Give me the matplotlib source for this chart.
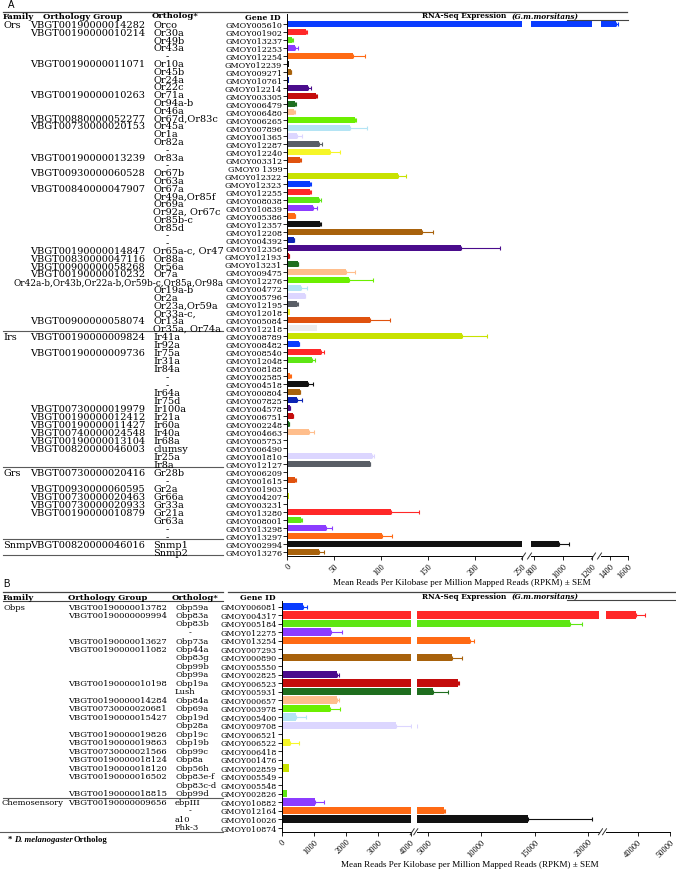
import matplotlib
matplotlib.use("Agg")
import matplotlib.pyplot as plt
from matplotlib.lines import Line2D
import numpy as np

W, H = 676, 870

# bar colours repeat every 20 genes
palette = ["#0a3cff", "#ff2828", "#5ee614", "#8c3cff", "#ff6a14", "#111111", "#a8620c",
           "#0c24b4", "#4a0c8c", "#c40c0c", "#1f6e1f", "#ffbe8c", "#6cef00", "#b4e4f4",
           "#dcd6ff", "#595e66", "#f6f628", "#e0520e", "#ececec", "#c8e200"]

# ---------------- panel A ----------------
genes_a = ["GMOY005610", "GMOY001902", "GMOY013237", "GMOY012253", "GMOY012254", "GMOY012239",
           "GMOY009271", "GMOY010761", "GMOY012214", "GMOY003305", "GMOY006479", "GMOY006480",
           "GMOY006265", "GMOY007896", "GMOY001365", "GMOY012287", "GMOY012240", "GMOY003312",
           "GMOY0 1399", "GMOY012322", "GMOY012323", "GMOY012255", "GMOY008038", "GMOY010839",
           "GMOY005386", "GMOY012357", "GMOY012208", "GMOY004392", "GMOY012356", "GMOY012193",
           "GMOY013231", "GMOY009475", "GMOY012276", "GMOY004772", "GMOY005796", "GMOY012195",
           "GMOY012018", "GMOY005084", "GMOY012218",
           "GMOY008789", "GMOY008482", "GMOY008540", "GMOY012048", "GMOY008188", "GMOY002585",
           "GMOY004518", "GMOY000804", "GMOY007825", "GMOY004578", "GMOY006751", "GMOY002248",
           "GMOY004663", "GMOY005753", "GMOY006490", "GMOY001810", "GMOY012127",
           "GMOY006209", "GMOY001615", "GMOY001903", "GMOY004207", "GMOY003231", "GMOY013280",
           "GMOY008001", "GMOY013298", "GMOY013297",
           "GMOY002994", "GMOY013276"]
rpkm_a = [1467, 20, 5.7, 8.5, 70.6, 1.8, 3.9, 1.6, 22.7, 31.2, 8.9, 7.5, 72.3, 67, 11, 34.4,
          45.4, 13.8, 1.5, 117.7, 24.8, 24.8, 33.7, 27.3, 8.5, 35.5, 144, 7.1, 185, 2.1, 11.7,
          62.4, 65.6, 14.5, 19.1, 11, 2.8, 87.9, 31.6,
          185.8, 12.4, 36.2, 26.6, 1.4, 3.5, 22.7, 13.8, 10.3, 3.2, 6.4, 2.1, 23.8, 1.2, 0.9,
          90.4, 87.9,
          1.0, 8.9, 0, 1.6, 0, 110.3, 14.5, 41.5, 101.4,
          975, 34]
sem_a = [22, 1, 0.5, 3.5, 12.5, 0, 0.5, 0, 3.2, 1, 0.5, 0.5, 1, 17.7, 5, 2.5,
         11.3, 1, 0, 8.5, 0.5, 0.5, 3, 5, 0.3, 0.5, 11, 0.5, 41.6, 0.2, 0.5,
         10.3, 26.2, 6.4, 0.5, 0.5, 0, 22, 0,
         27, 0.5, 3.2, 2.8, 0, 0.3, 4.6, 0.5, 6, 0.3, 0.3, 0.2, 5.2, 0, 0,
         2, 0.5,
         0, 0.3, 0, 0, 0, 30, 1.5, 6.4, 10,
         69, 5.7]

ors_orth = ["Orco", "Or30a", "Or49b", "Or43a", "-", "Or10a", "Or45b", "Or24a", "Or22c", "Or71a",
            "Or94a-b", "Or46a", "Or67d,Or83c", "Or45a", "Or1a", "Or82a", "-", "Or83a", "-",
            "Or67b", "Or63a", "Or67a", "Or49a,Or85f", "Or69a", "Or92a, Or67c", "Or85b-c",
            "Or85d", "-", "-", "Or65a-c, Or47", "Or88a", "Or56a", "Or7a",
            "Or42a-b,Or43b,Or22a-b,Or59b-c,Or85a,Or98a", "Or19a-b", "Or2a", "Or23a,Or59a",
            "Or33a-c,", "Or13a", "Or35a, Or74a"]
ors_grp = {0: "VBGT00190000014282", 1: "VBGT00190000010214", 5: "VBGT00190000011071",
           9: "VBGT00190000010263", 12: "VBGT00880000052277", 13: "VBGT00730000020153",
           17: "VBGT00190000013239", 19: "VBGT00930000060528", 21: "VBGT00840000047907",
           29: "VBGT00190000014847", 30: "VBGT00830000047116", 31: "VBGT00900000058268",
           32: "VBGT00190000010232", 38: "VBGT00900000058074"}
irs_orth = ["Ir41a", "Ir92a", "Ir75a", "Ir31a", "Ir84a", "-", "-", "Ir64a", "Ir75d", "Ir100a",
            "Ir21a", "Ir60a", "Ir40a", "Ir68a", "clumsy", "Ir25a", "Ir8a"]
irs_grp = {0: "VBGT00190000009824", 2: "VBGT00190000009736", 9: "VBGT00730000019979",
           10: "VBGT00190000012412", 11: "VBGT00190000011427", 12: "VBGT00740000024548",
           13: "VBGT00190000013104", 14: "VBGT00820000046003"}
grs_orth = ["Gr28b", "-", "Gr2a", "Gr66a", "Gr33a", "Gr21a", "Gr63a", "-", "-"]
grs_grp = {0: "VBGT00730000020416", 2: "VBGT00930000060595", 3: "VBGT00730000020463",
           4: "VBGT00730000020933", 5: "VBGT00190000010879"}
snmp_orth = ["Snmp1", "Snmp2"]
snmp_grp = {0: "VBGT00820000046016"}

ticks_a = [[0, 50, 100, 150, 200, 250], [800, 1000, 1200], [1400, 1600]]

# ---------------- panel B ----------------
genes_b = ["GMOY006081", "GMOY004317", "GMOY005184", "GMOY012275", "GMOY013254", "GMOY007293",
           "GMOY000890", "GMOY005550", "GMOY002825", "GMOY006523", "GMOY005931", "GMOY000657",
           "GMOY003978", "GMOY005400", "GMOY009708", "GMOY006521", "GMOY006522", "GMOY006418",
           "GMOY001476", "GMOY002859", "GMOY005549", "GMOY005548", "GMOY002826",
           "GMOY010882", "GMOY012164", "GMOY010026", "GMOY010874"]
rpkm_b = [670, 39300, 18280, 1519, 8930, 30, 7274, 40, 1705, 7780, 5500, 1705, 1488, 434,
          3535, 20, 267, 50, 10, 227, 30, 0, 163,
          1023, 6470, 14385, 0]
sem_b = [105, 2800, 1100, 340, 370, 0, 880, 0, 80, 90, 1340, 80, 320, 320,
         460, 0, 280, 0, 0, 0, 0, 0, 0,
         300, 150, 5925, 0]

obp_orth = ["Obp59a", "Obp83a", "Obp83b", "-", "Obp73a", "Obp44a", "Obp83g", "Obp99b", "Obp99a",
            "Obp19a", "Lush", "Obp84a", "Obp69a", "Obp19d", "Obp28a", "Obp19c", "Obp19b",
            "Obp99c", "Obp8a", "Obp56h", "Obp83e-f", "Obp83c-d", "Obp99d"]
obp_grp = {0: "VBGT00190000013782", 1: "VBGT00190000009994", 4: "VBGT00190000013627",
           5: "VBGT00190000011082", 9: "VBGT00190000010198", 11: "VBGT00190000014284",
           12: "VBGT00730000020681", 13: "VBGT00190000015427", 15: "VBGT00190000019826",
           16: "VBGT00190000019863", 17: "VBGT00730000021566", 18: "VBGT00190000018124",
           19: "VBGT00190000018120", 20: "VBGT00190000016502", 22: "VBGT00190000018815"}
chemo_orth = ["ebpIII", "-", "a10", "Phk-3"]
chemo_grp = {0: "VBGT00190000009656"}

ticks_b = [[0, 1000, 2000, 3000, 4000], [5000, 10000, 15000, 20000], [40000, 50000]]

xlabel = "Mean Reads Per Kilobase per Million Mapped Reads (RPKM) \u00b1 SEM"

SERIF = "DejaVu Serif"
TIMES = "Liberation Serif"

fig = plt.figure(figsize=(W / 100, H / 100), dpi=100)


def px_ax(x0, x1, y0, y1):
    return fig.add_axes([x0 / W, 1 - y1 / H, (x1 - x0) / W, (y1 - y0) / H])


def ftext(x, y, s, **kw):
    kw.setdefault("va", "center")
    kw.setdefault("family", SERIF)
    fig.text(x / W, 1 - y / H, s, **kw)


def hline(x0, x1, y, lw=0.8, color="#5a5a5a"):
    fig.add_artist(Line2D([x0 / W, x1 / W], [1 - y / H, 1 - y / H], lw=lw, color=color,
                          transform=fig.transFigure))


def slash(x, y):
    fig.add_artist(Line2D([(x - 2) / W, (x + 2) / W], [1 - (y + 3) / H, 1 - (y - 3) / H],
                          lw=0.7, color="#333333", transform=fig.transFigure))


def draw_bars(genes, vals, sems, segs, tick_sets, y_first, pitch, top_pad, bar_h, gene_fs):
    n = len(genes)
    rows = np.arange(n)
    cols = [palette[i % len(palette)] for i in range(n)]
    vals = np.asarray(vals, float)
    sems = np.asarray(sems, float)
    y_top = y_first - top_pad * pitch
    y_bot = y_first + (n - 0.5) * pitch
    for k, ((x0, x1, lim), ticks) in enumerate(zip(segs, tick_sets)):
        ax = px_ax(x0, x1, y_top, y_bot)
        ax.patch.set_visible(False)
        ax.barh(rows, vals, height=bar_h, color=cols, linewidth=0)
        for r in rows:
            if sems[r] > 0:
                ax.errorbar(vals[r], r, xerr=[[0], [sems[r]]], fmt="none", ecolor=cols[r],
                            elinewidth=0.8, capsize=1.4, capthick=0.8)
        ax.set_xlim(*lim)
        ax.set_ylim(n - 0.5, -top_pad)
        for s in ("top", "right"):
            ax.spines[s].set_visible(False)
        ax.spines["bottom"].set_linewidth(0.7)
        ax.spines["left"].set_linewidth(0.7)
        ax.set_xticks(ticks)
        ax.set_xticklabels([str(t) for t in ticks], rotation=45, ha="right",
                           rotation_mode="anchor", fontsize=6, family=TIMES)
        ax.tick_params(axis="x", length=3, width=0.6, pad=1)
        if k == 0:
            ax.set_yticks(rows)
            ax.set_yticklabels(genes, fontsize=gene_fs, family=SERIF)
            ax.tick_params(axis="y", length=3, width=0.6, pad=0.5)
        else:
            ax.spines["left"].set_visible(False)
            ax.set_yticks([])
    for (a, b) in zip(segs[:-1], segs[1:]):
        slash(a[1] + 1.5, y_bot)
        slash(b[0] - 1.5, y_bot)
    return y_bot


def draw_table(sections, y_first, pitch, x_grp, x_orth, x_dash, fs, sep_off, long_right):
    for fam, orth, grp, r0, r1 in sections:
        m = len(orth)
        for i, o in enumerate(orth):
            r = r0 + (r1 - r0) * i / (m - 1) if m > 1 else r0
            y = y_first + r * pitch
            if o == "-":
                ftext(x_dash, y, o, fontsize=fs, ha="center")
            elif len(o) > 20:
                ftext(long_right, y, o, fontsize=fs * 0.91, ha="right")
            else:
                ftext(x_orth, y, o, fontsize=fs, ha="left")
            if i in grp:
                ftext(x_grp, y, grp[i], fontsize=fs, ha="left")
            if i == 0:
                ftext(1 if len(fam) > 6 else 3, y, fam, fontsize=fs, ha="left")
        hline(3 if fam != "Chemosensory" else 0, 223, y_first + (r1 + sep_off) * pitch)


# ---- panel A ----
ftext(8, 5, "A", family="Liberation Sans", fontsize=7)
hline(3, 627, 12.5, lw=0.9, color="#444444")
hline(567, 628, 20.7, lw=0.8, color="#444444")
ftext(3, 17, "Family", fontsize=6, fontweight="bold")
ftext(43, 17, "Orthology Group", fontsize=6, fontweight="bold")
ftext(152, 16, "Ortholog*", fontsize=6, fontweight="bold")
ftext(263, 17.5, "Gene ID", fontsize=5.6, fontweight="bold", ha="center")
ftext(422, 16.5, "RNA-Seq Expression", fontsize=5.3, fontweight="bold")
ftext(512, 16.5, "(G.m.morsitans)", fontsize=5.3, fontweight="bold", style="italic")

segs_a = [(287, 522, (0, 250)), (531, 592, (780, 1200)), (601, 628, (1300, 1600))]
draw_bars(genes_a, rpkm_a, sem_a, segs_a, ticks_a, 25, 8, 1.2, 0.85, 5.8)
sections_a = [("Ors", ors_orth, ors_grp, 0, 38), ("Irs", irs_orth, irs_grp, 39, 55),
              ("Grs", grs_orth, grs_grp, 56, 64), ("Snmp", snmp_orth, snmp_grp, 65, 66)]
draw_table(sections_a, 25.5, 8, 30, 153, 167, 7, 0.3, 224)
ftext(461.5, 583, xlabel, family=TIMES, fontsize=6.6, ha="center")

# ---- panel B ----
ftext(3, 584, "B", family="Liberation Sans", fontsize=7)
hline(3, 223, 593, lw=0.9, color="#444444")
hline(228, 676, 593, lw=0.9, color="#444444")
hline(3, 223, 602, lw=0.8, color="#444444")
hline(567, 676, 600.7, lw=0.8, color="#444444")
ftext(3, 597.5, "Family", fontsize=6, fontweight="bold")
ftext(68, 597.5, "Orthology Group", fontsize=6, fontweight="bold")
ftext(172, 597.5, "Ortholog*", fontsize=6, fontweight="bold")
ftext(240, 597.5, "Gene ID", fontsize=5.6, fontweight="bold")
ftext(422, 597, "RNA-Seq Expression", fontsize=5.3, fontweight="bold")
ftext(512, 597, "(G.m.morsitans)", fontsize=5.3, fontweight="bold", style="italic")

segs_b = [(281.7, 410.7, (0, 4000)), (417.3, 599, (4000, 21000)), (606, 670, (30000, 50000))]
draw_bars(genes_b, rpkm_b, sem_b, segs_b, ticks_b, 607.5, 8.5, 0.7, 0.88, 5.7)
sections_b = [("Obps", obp_orth, obp_grp, 0, 22), ("Chemosensory", chemo_orth, chemo_grp, 23, 26)]
draw_table(sections_b, 607.5, 8.5, 68, 175, 190, 6, 0.5, 224)
ftext(470, 865, xlabel, family=TIMES, fontsize=6.6, ha="center")

ftext(8, 840, "*", family=TIMES, fontsize=6.2, fontweight="bold")
ftext(14, 840, "D. melanogaster", family=TIMES, fontsize=6.2, fontweight="bold", style="italic")
ftext(74, 840, "Ortholog", family=TIMES, fontsize=6.2, fontweight="bold")

fig.savefig("out.png", dpi=100)
